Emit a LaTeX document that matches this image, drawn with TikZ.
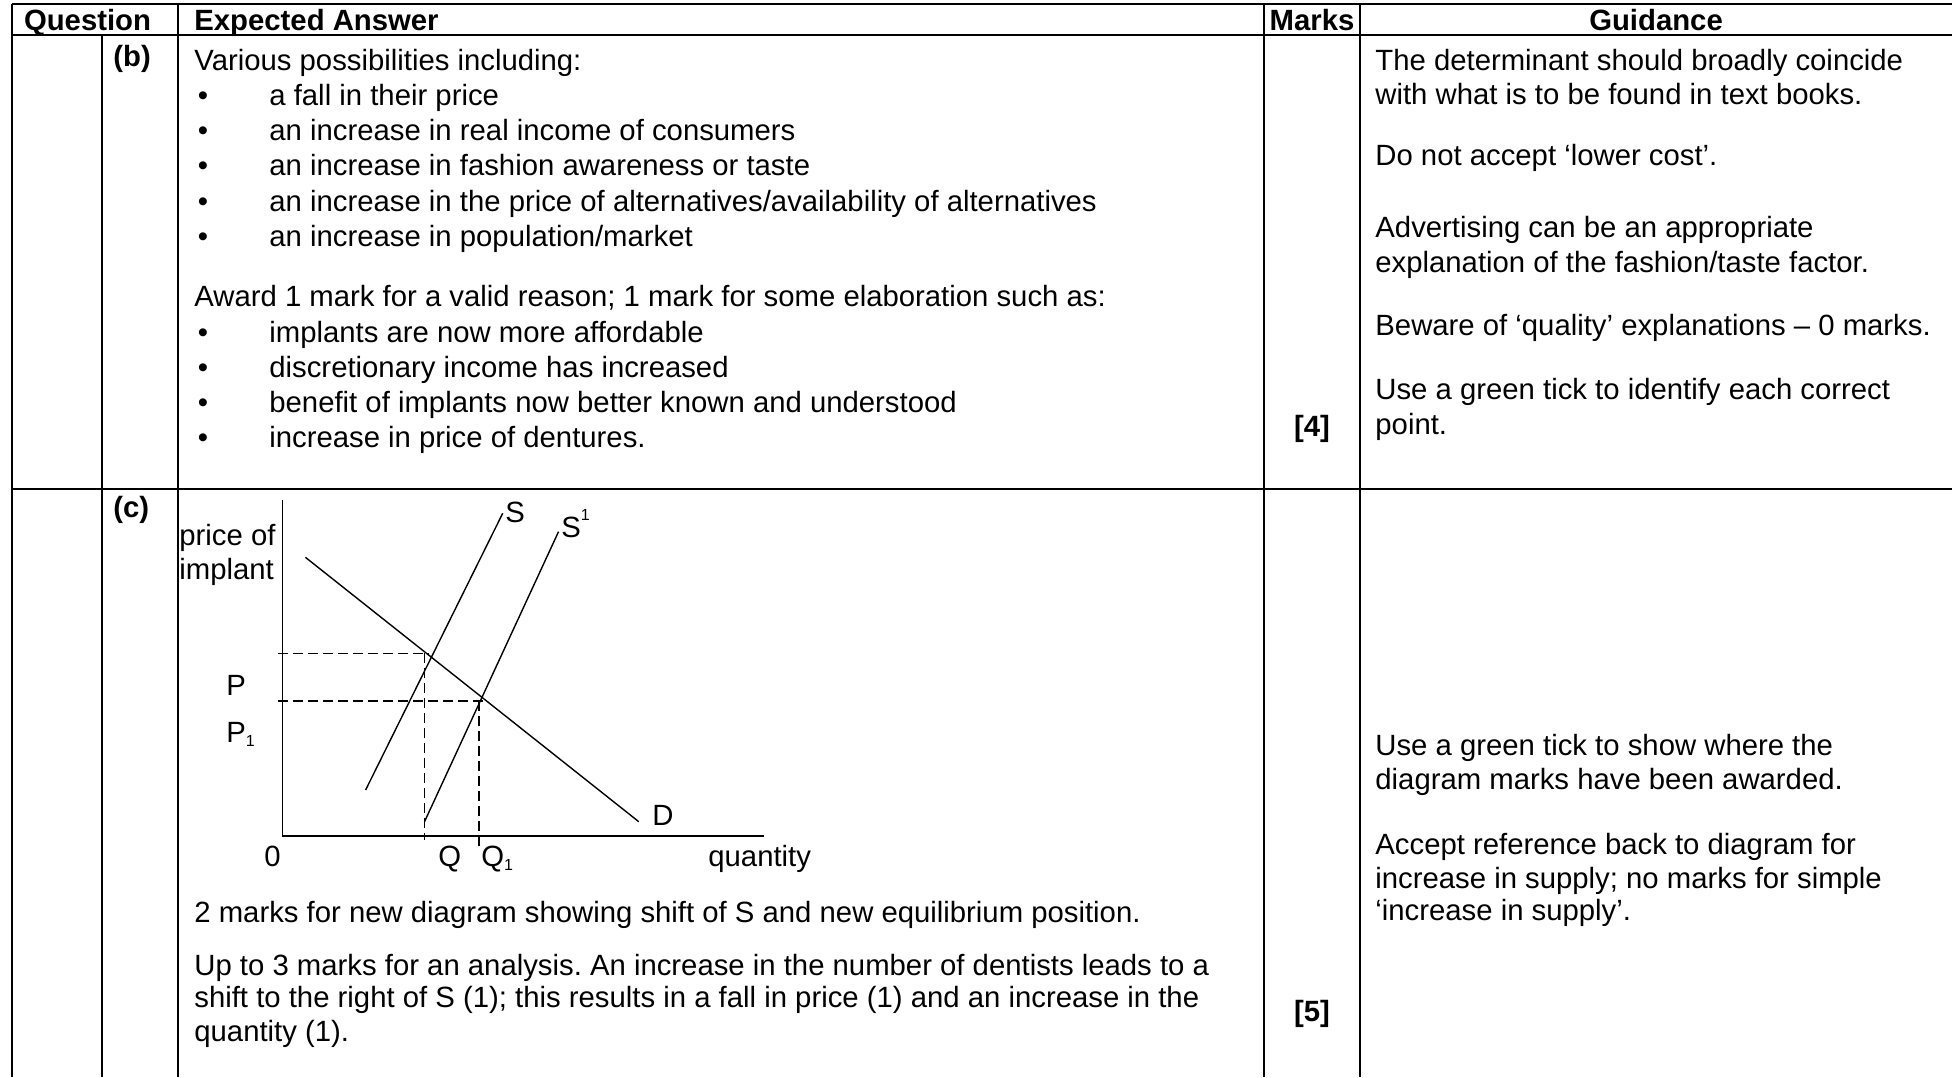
\documentclass[tikz,border=0pt]{standalone}
\usepackage{fontspec}
\setmainfont{Liberation Sans}
\frenchspacing

\begin{document}
\begin{tikzpicture}[x=0.5pt,y=-0.5pt,
    every node/.style={inner sep=0pt,font=\fontsize{14.65}{17}\selectfont},
    txt/.style={anchor=base west},
    hdr/.style={anchor=base,font=\fontsize{14.65}{17}\selectfont\bfseries},
    rule/.style={line width=1pt},
    curve/.style={line width=0.7pt},
    guide/.style={line width=0.75pt,dash pattern=on 5pt off 2.5pt}]
    \useasboundingbox (0,0) rectangle (1952,1077);

    % table rules
    \draw[rule](12,3.5)--(1952,3.5);
    \draw[rule](12,34.5)--(1952,34.5);
    \draw[rule](12,489)--(1952,489);
    \draw[rule](12,3.5)--(12,1077);
    \draw[rule](102,34.5)--(102,1077);
    \draw[rule](178,3.5)--(178,1077);
    \draw[rule](1264,3.5)--(1264,1077);
    \draw[rule](1360,3.5)--(1360,1077);

    % header
    \node[hdr](hq)at(87.5,30.5){Question};
    \node[hdr,anchor=base west](he)at(194,30.5){Expected Answer};
    \node[hdr](hm)at(1312,30.5){Marks};
    \node[hdr](hg)at(1656,30.5){Guidance};

    % row (b)
    \node[hdr,anchor=base west](qb)at(113,66){(b)};
    \node[txt](b0)at(194,70){Various possibilities including:};
    \foreach \t [count=\i] in {{a fall in their price},{an increase in real income of consumers},{an increase in fashion awareness or taste},{an increase in the price of alternatives/availability of alternatives},{an increase in population/market}}{
        \node[anchor=base](bd\i)at(203,{105+35.4*(\i-1)}){\textbullet};
        \node[txt](bb\i)at(269,{105+35.4*(\i-1)}){\t};
    }
    \node[txt](b1)at(194,306){Award 1 mark for a valid reason; 1 mark for some elaboration such as:};
    \foreach \t [count=\i] in {{implants are now more affordable},{discretionary income has increased},{benefit of implants now better known and understood},{increase in price of dentures.}}{
        \node[anchor=base](ed\i)at(203,{342+35.3*(\i-1)}){\textbullet};
        \node[txt](eb\i)at(269,{342+35.3*(\i-1)}){\t};
    }
    \node[hdr](mb)at(1312,436){[4]};

    \node[txt](gb1)at(1375,70){The determinant should broadly coincide};
    \node[txt](gb2)at(1375,104){with what is to be found in text books.};
    \node[txt](gb3)at(1375,165){Do not accept ‘lower cost’.};
    \node[txt](gb4)at(1375,237){Advertising can be an appropriate};
    \node[txt](gb5)at(1375,272){explanation of the fashion/taste factor.};
    \node[txt](gb6)at(1375,335){Beware of ‘quality’ explanations – 0 marks.};
    \node[txt](gb7)at(1375,399){Use a green tick to identify each correct};
    \node[txt](gb8)at(1375,434){point.};

    % row (c)
    \node[hdr,anchor=base west](qc)at(113,517){(c)};

    % supply and demand diagram
    \draw[curve](282.6,500)--(282.6,836)--(764,836);
    \draw[curve](305.4,557.3)--(638.8,821.7);
    \draw[curve](365.6,790)--(502.7,513.3);
    \draw[curve](424.5,821.7)--(558.5,531.7);
    \draw[guide](278,653.3)--(429,653.3);
    \draw[guide](424.5,653.3)--(424.5,840);
    \draw[guide](278,701)--(482.6,701);
    \draw[guide](479,701)--(479,847);

    \node[txt](ya1)at(179,545.5){price of};
    \node[txt](ya2)at(179,579){implant};
    \node[txt](ls)at(505,522){S};
    \node[txt](ls1)at(561,537){S\raisebox{1.05ex}{\fontsize{8}{8}\selectfont 1}};
    \node[txt](ld)at(652,825){D};
    \node[txt](lp)at(226,695){P};
    \node[txt](lp1)at(226,742){P\raisebox{-0.3ex}{\fontsize{8}{8}\selectfont 1}};
    \node[txt](lo)at(264,866){0};
    \node[txt](lq)at(438,866){Q};
    \node[txt](lq1)at(481,866){Q\raisebox{-0.3ex}{\fontsize{8}{8}\selectfont 1}};
    \node[txt](xa)at(708,866){quantity};

    \node[txt](c1)at(194,922){2 marks for new diagram showing shift of S and new equilibrium position.};
    \node[txt](c2)at(194,975){Up to 3 marks for an analysis. An increase in the number of dentists leads to a};
    \node[txt](c3)at(194,1007){shift to the right of S (1); this results in a fall in price (1) and an increase in the};
    \node[txt](c4)at(194,1041){quantity (1).};
    \node[hdr](mc)at(1312,1021){[5]};

    \node[txt](gc1)at(1375,755){Use a green tick to show where the};
    \node[txt](gc2)at(1375,789){diagram marks have been awarded.};
    \node[txt](gc3)at(1375,854){Accept reference back to diagram for};
    \node[txt](gc4)at(1375,888){increase in supply; no marks for simple};
    \node[txt](gc5)at(1375,920){‘increase in supply’.};
\end{tikzpicture}
\end{document}
